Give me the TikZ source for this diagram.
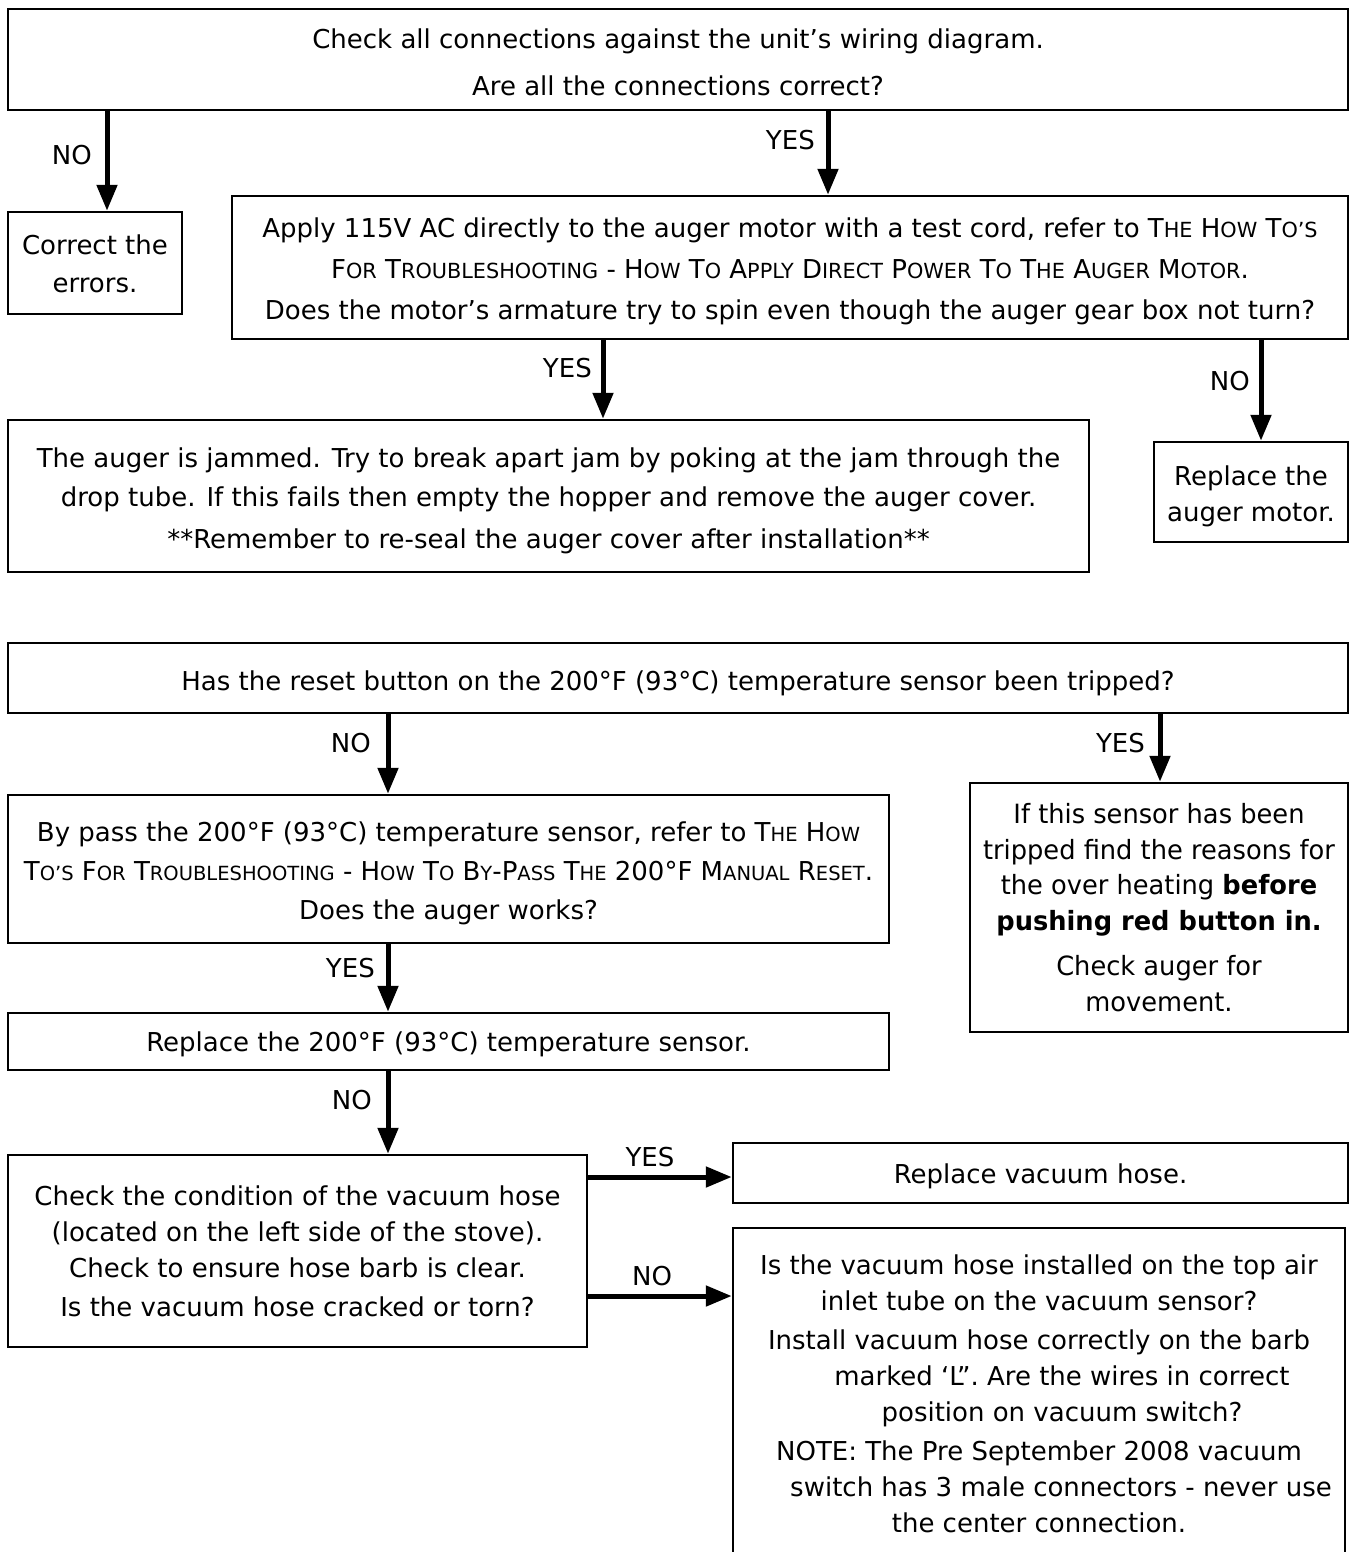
\documentclass[tikz,border=0pt]{standalone}
\usepackage{fontspec}
\setmainfont{DejaVu Sans}
\newfontfamily\sensorfont{DejaVu Sans}[FakeStretch=0.97]
\usetikzlibrary{arrows.meta}
\newcommand\fsc[1]{{\fontsize{19.5}{19.5}\selectfont #1}}
\newcommand\fscb[1]{{\fontsize{20.8}{20.8}\selectfont #1}}
\begin{document}
\begin{tikzpicture}[x=1pt,y=-1pt,
  box/.style={draw, line width=2.5pt, inner sep=0pt},
  txt/.style={inner sep=0pt, align=center, font=\fontsize{26}{36}\selectfont},
  stxt/.style={inner sep=0pt, align=center, font=\sensorfont\fontsize{26.5}{35.5}\selectfont},
  lab/.style={font=\fontsize{26}{30}\selectfont, inner sep=0pt},
  arr/.style={line width=5pt, -{Triangle[width=20pt,length=26pt]}}]
\useasboundingbox (0,0) rectangle (1349,1552);
\clip (0,0) rectangle (1349,1552);

% ---------- first chart ----------
\node[box, minimum width=1340pt, minimum height=101pt] (b1) at (678,59.5) {};
\node[txt] (tb1) at ([yshift=-3pt]b1.center)
 {Check all connections against the unit’s wiring diagram.\\[11pt]Are all the connections correct?};
\node[box, minimum width=174pt, minimum height=102pt] (corr) at (95,263) {};
\node[txt] (tcorr) at ([yshift=-1pt]corr.center) {Correct the\\[2pt]errors.};
\node[box, minimum width=1116pt, minimum height=143pt] (apply) at (790,267.5) {};
\node[txt] (tapply) at ([yshift=-4pt]apply.center)
 {Apply 115V AC directly to the auger motor with a test cord, refer to T\fscb{HE} H\fscb{OW} T\fscb{O’S}\\[5pt]
  F\fscb{OR} T\fscb{ROUBLESHOOTING} - H\fscb{OW} T\fscb{O} A\fscb{PPLY} D\fscb{IRECT} P\fscb{OWER} T\fscb{O} T\fscb{HE} A\fscb{UGER} M\fscb{OTOR}.\\[5pt]
  Does the motor’s armature try to spin even though the auger gear box not turn?};
\node[box, minimum width=1081pt, minimum height=152pt] (jam) at (548.5,496) {};
\node[txt] (tjam) at ([yshift=-5pt]jam.center)
 {The auger is jammed. Try to break apart jam by poking at the jam through the\\[3pt]
  drop tube. If this fails then empty the hopper and remove the auger cover.\\[6pt]
  **Remember to re-seal the auger cover after installation**};
\node[box, minimum width=194pt, minimum height=100pt] (motor) at (1251,492) {};
\node[txt] (tmotor) at ([yshift=-4pt]motor.center) {Replace the\\auger motor.};

\coordinate (xa1) at (107,0);
\coordinate (xa2) at (828,0);
\coordinate (xa3) at (603,0);
\coordinate (xa4) at (1261,0);
\draw[arr] (xa1 |- b1.south) -- (xa1 |- corr.north);
\draw[arr] (xa2 |- b1.south) -- (xa2 |- apply.north);
\draw[arr] (xa3 |- apply.south) -- (xa3 |- jam.north);
\draw[arr] (xa4 |- apply.south) -- (xa4 |- motor.north);
\node[lab, anchor=east] (l1) at (92,155) {NO};
\node[lab, anchor=east] (l2) at (815,140) {YES};
\node[lab, anchor=east] (l3) at (592,368) {YES};
\node[lab, anchor=east] (l4) at (1250,381) {NO};

% ---------- second chart ----------
\node[box, minimum width=1340pt, minimum height=70pt] (reset) at (678,678) {};
\node[txt] (treset) at ([yshift=-5pt]reset.center)
 {Has the reset button on the 200°F (93°C) temperature sensor been tripped?};
\node[box, minimum width=881pt, minimum height=148pt] (bypass) at (448.5,869) {};
\node[txt] (tbypass) at ([yshift=-4pt]bypass.center)
 {By pass the 200°F (93°C) temperature sensor, refer to T\fsc{HE} H\fsc{OW}\\[3pt]
  T\fsc{O’S} F\fsc{OR} T\fsc{ROUBLESHOOTING} - H\fsc{OW} T\fsc{O} B\fsc{Y}-P\fsc{ASS} T\fsc{HE} 200°F M\fsc{ANUAL} R\fsc{ESET}.\\[3pt]
  Does the auger works?};
\node[box, minimum width=378pt, minimum height=249pt] (sensor) at (1159,907.5) {};
\node[stxt] (tsensor) at (sensor.center)
 {If this sensor has been\\tripped find the reasons for\\the over heating \textbf{before}\\\textbf{pushing red button in.}\\[10pt]
  Check auger for\\movement.};
\node[box, minimum width=881pt, minimum height=57pt] (rsens) at (448.5,1041.5) {};
\node[txt] (trsens) at ([yshift=-3pt]rsens.center)
 {Replace the 200°F (93°C) temperature sensor.};
\node[box, minimum width=579pt, minimum height=192pt] (vc) at (297.5,1251) {};
\node[txt] (tvc) at (vc.center)
 {Check the condition of the vacuum hose\\(located on the left side of the stove).\\Check to ensure hose barb is clear.\\[3pt]
  Is the vacuum hose cracked or torn?};
\node[box, minimum width=615pt, minimum height=60pt] (hose) at (1040.5,1173) {};
\node[txt] (those) at ([yshift=-3pt]hose.center) {Replace vacuum hose.};
\node[box, minimum width=612pt, minimum height=332pt] (vq) at (1039,1394) {};
\node[txt] (tvq) at (vq.center)
 {Is the vacuum hose installed on the top air\\inlet tube on the vacuum sensor?\\[3pt]
  Install vacuum hose correctly on the barb\\\hspace*{46pt}marked ‘L”. Are the wires in correct\\\hspace*{46pt}position on vacuum switch?\\[3pt]
  NOTE: The Pre September 2008 vacuum\\\hspace*{44pt}switch has 3 male connectors - never use\\the center connection.};

\coordinate (xb1) at (388,0);
\coordinate (xb2) at (1160,0);
\coordinate (yb1) at (0,1177);
\coordinate (yb2) at (0,1296);
\draw[arr] (xb1 |- reset.south) -- (xb1 |- bypass.north);
\draw[arr] (xb2 |- reset.south) -- (xb2 |- sensor.north);
\draw[arr] (xb1 |- bypass.south) -- (xb1 |- rsens.north);
\draw[arr] (xb1 |- rsens.south) -- (xb1 |- vc.north);
\draw[arr] (vc.east |- yb1) -- (hose.west |- yb1);
\draw[arr] (vc.east |- yb2) -- (vq.west |- yb2);
\node[lab, anchor=east] (l5) at (371,743) {NO};
\node[lab, anchor=east] (l6) at (1145,743) {YES};
\node[lab, anchor=east] (l7) at (375,968) {YES};
\node[lab, anchor=east] (l8) at (372,1100) {NO};
\node[lab] (l9) at (650,1157) {YES};
\node[lab] (l10) at (652,1276) {NO};
\end{tikzpicture}
\end{document}
